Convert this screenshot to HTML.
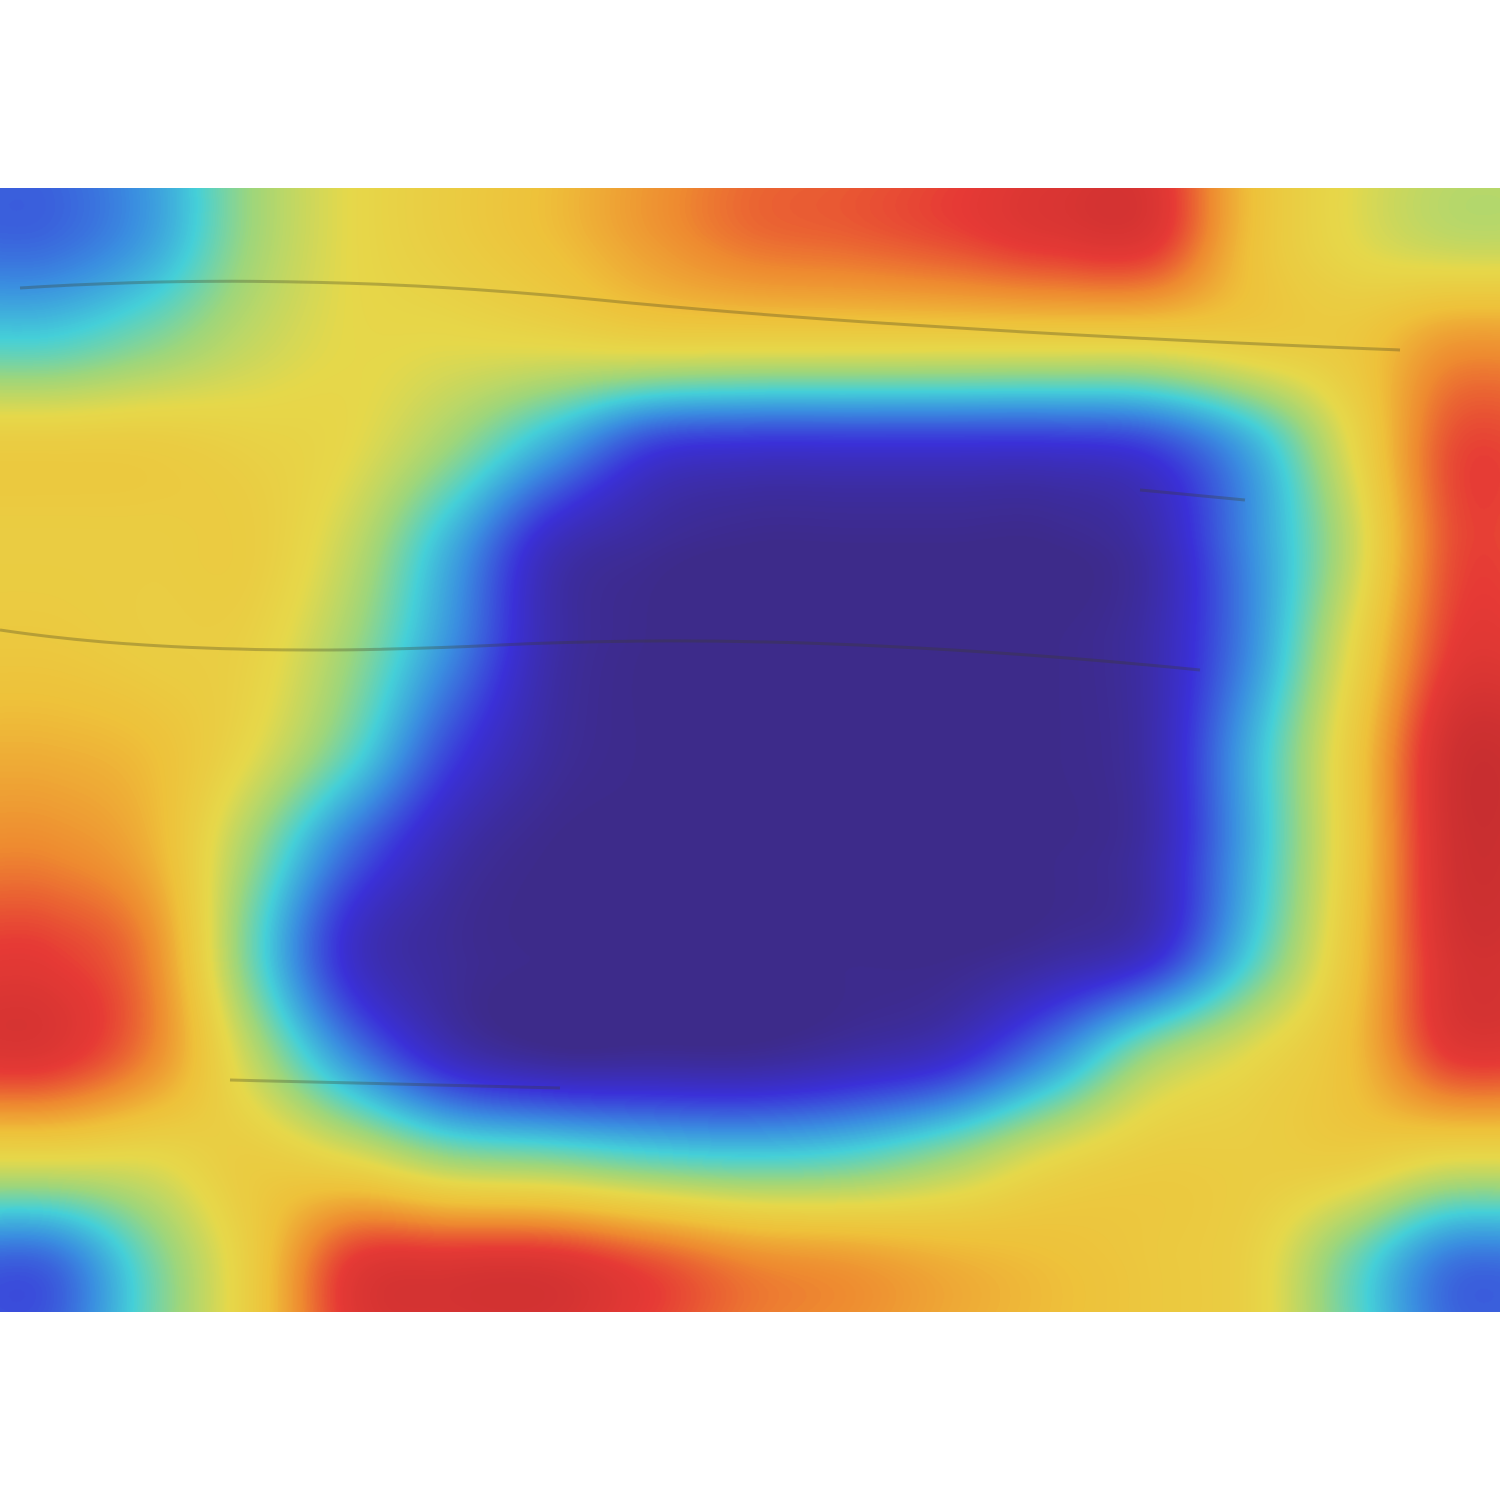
<!DOCTYPE html>
<html><head><meta charset="utf-8"><style>
html,body{margin:0;padding:0;background:#fff;width:1500px;height:1500px;overflow:hidden;position:relative}
#heat{position:absolute;left:0;top:188px;display:block}
#over{position:absolute;left:0;top:0}
</style></head><body>
<canvas id="heat" width="1500" height="1124"></canvas>
<svg id="over" width="1500" height="1500" viewBox="0 0 1500 1500" xmlns="http://www.w3.org/2000/svg">
<g fill="none" stroke="#3a3a20" stroke-opacity="0.3" stroke-width="3">
<path d="M20 288 Q300 270 600 300 T1400 350"/>
<path d="M0 630 Q200 660 500 645 T1200 670"/>
<path d="M230 1080 L560 1088"/>
<path d="M1140 490 L1245 500"/>
</g>
</svg>
<script>
const cols = 15;
const rows = 11;
const heatValues = [
[0.20,0.28,0.45,0.55,0.60,0.65,0.72,0.78,0.80,0.83,0.87,0.87,0.65,0.55,0.50],
[0.36,0.42,0.50,0.55,0.55,0.56,0.58,0.58,0.58,0.58,0.58,0.58,0.60,0.62,0.72],
[0.60,0.60,0.58,0.55,0.45,0.30,0.15,0.12,0.12,0.12,0.12,0.15,0.30,0.55,0.82],
[0.60,0.60,0.60,0.50,0.30,0.08,0.02,0.00,0.00,0.00,0.00,0.05,0.25,0.50,0.82],
[0.62,0.60,0.58,0.45,0.25,0.05,0.00,0.00,0.00,0.00,0.00,0.05,0.25,0.55,0.85],
[0.68,0.65,0.55,0.38,0.15,0.03,0.00,0.00,0.00,0.00,0.00,0.05,0.30,0.60,0.92],
[0.75,0.68,0.45,0.20,0.05,0.00,0.00,0.00,0.00,0.00,0.00,0.05,0.30,0.60,0.92],
[0.85,0.75,0.40,0.10,0.02,0.00,0.00,0.00,0.00,0.00,0.03,0.10,0.35,0.62,0.90],
[0.87,0.75,0.50,0.25,0.08,0.02,0.02,0.02,0.05,0.10,0.25,0.45,0.55,0.65,0.85],
[0.55,0.55,0.60,0.55,0.45,0.42,0.38,0.36,0.38,0.45,0.55,0.60,0.60,0.60,0.55],
[0.20,0.40,0.60,0.85,0.88,0.88,0.82,0.75,0.72,0.68,0.65,0.62,0.58,0.40,0.22]
];
const stops=[[0,[61,43,138]],[0.12,[58,48,216]],[0.25,[58,142,224]],[0.35,[69,208,216]],[0.45,[159,214,122]],[0.55,[230,216,74]],[0.65,[238,193,58]],[0.75,[238,138,48]],[0.85,[230,58,53]],[1,[185,40,45]]];
const lut=[];
for(let i=0;i<=255;i++){const v=i/255;let c=stops[stops.length-1][1];
  for(let s=1;s<stops.length;s++){if(v<=stops[s][0]){const a=stops[s-1],b=stops[s];const t=(v-a[0])/(b[0]-a[0]);c=a[1].map((x,k)=>x+(b[1][k]-x)*t);break;}}
  lut.push(c);}
const W=1500,H=1124;
function val(r,c){r=Math.max(0,Math.min(rows-1,r));c=Math.max(0,Math.min(cols-1,c));return heatValues[r][c];}
function cr(p0,p1,p2,p3,t){return 0.5*((2*p1)+(-p0+p2)*t+(2*p0-5*p1+4*p2-p3)*t*t+(-p0+3*p1-3*p2+p3)*t*t*t);}
function sample(x,y){
  const gx=x/(W/cols)-0.5, gy=y/(H/rows)-0.5;
  const ix=Math.floor(gx), iy=Math.floor(gy), tx=gx-ix, ty=gy-iy;
  const rowv=[];
  for(let j=-1;j<=2;j++){rowv.push(cr(val(iy+j,ix-1),val(iy+j,ix),val(iy+j,ix+1),val(iy+j,ix+2),tx));}
  return Math.max(0,Math.min(1,cr(rowv[0],rowv[1],rowv[2],rowv[3],ty)));
}
const cv=document.getElementById('heat');const ctx=cv.getContext('2d');
const img=ctx.createImageData(W,H);const d=img.data;
const S=4; const sw=Math.ceil(W/S)+2, sh=Math.ceil(H/S)+2; const grid=new Float32Array(sw*sh);
for(let j=0;j<sh;j++)for(let i=0;i<sw;i++)grid[j*sw+i]=sample(i*S,j*S);
for(let y=0;y<H;y++){const j=Math.floor(y/S),fy=(y%S)/S;
  for(let x=0;x<W;x++){const i=Math.floor(x/S),fx=(x%S)/S;
    const v=(grid[j*sw+i]*(1-fx)+grid[j*sw+i+1]*fx)*(1-fy)+(grid[(j+1)*sw+i]*(1-fx)+grid[(j+1)*sw+i+1]*fx)*fy;
    const c=lut[Math.round(v*255)];const k=(y*W+x)*4;
    d[k]=c[0];d[k+1]=c[1];d[k+2]=c[2];d[k+3]=255;}}
ctx.putImageData(img,0,0);
</script>
</body></html>
